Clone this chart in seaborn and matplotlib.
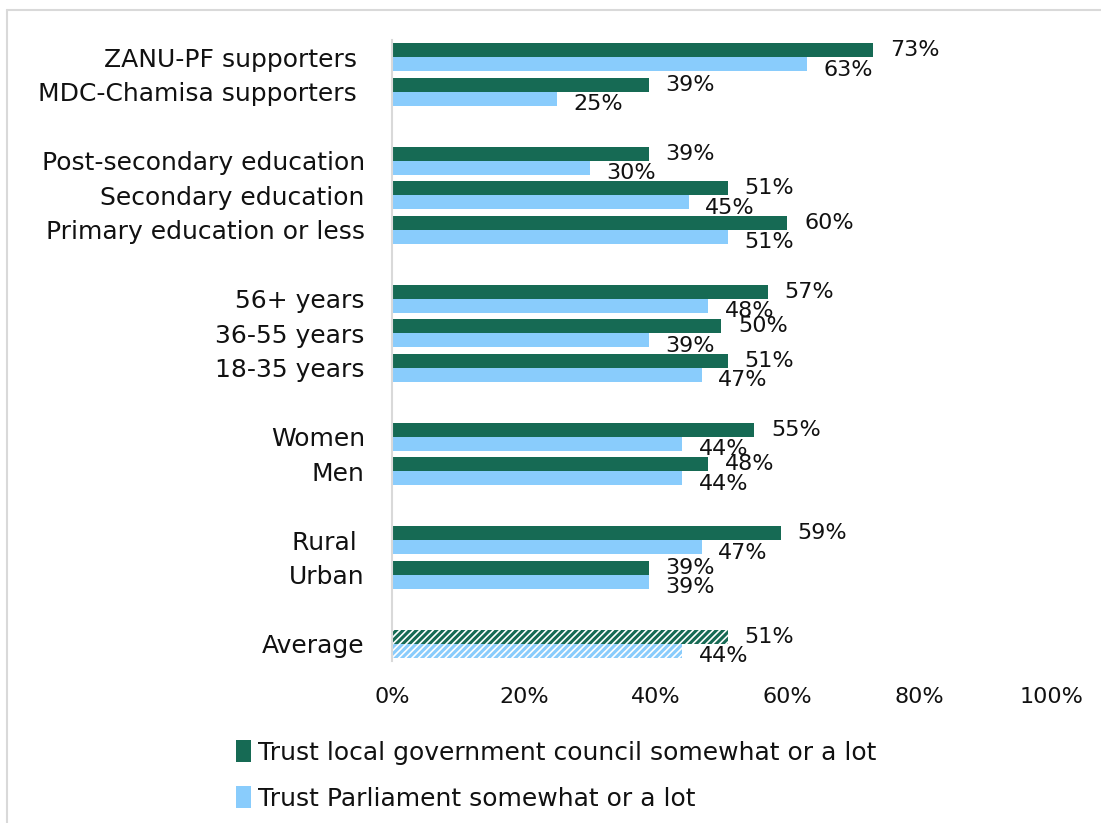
import matplotlib
matplotlib.use("Agg")
import matplotlib.pyplot as plt
from matplotlib.patches import Patch
from matplotlib.lines import Line2D
import seaborn as sns
import pandas as pd

# Groups from top to bottom; blank strings leave gaps between blocks
categories = [
    "ZANU-PF supporters ", "MDC-Chamisa supporters ", " ",
    "Post-secondary education", "Secondary education", "Primary education or less", "  ",
    "56+ years", "36-55 years", "18-35 years", "   ",
    "Women", "Men", "    ",
    "Rural ", "Urban", "     ",
    "Average",
]
local_council = [73, 39, None, 39, 51, 60, None, 57, 50, 51, None, 55, 48, None, 59, 39, None, 51]
parliament = [63, 25, None, 30, 45, 51, None, 48, 39, 47, None, 44, 44, None, 47, 39, None, 44]
series_names = ["Trust local government council somewhat or a lot",
                "Trust Parliament somewhat or a lot"]
x_ticks = [0, 20, 40, 60, 80, 100]

GREEN = "#166A54"
BLUE = "#89CCFC"

rows = []
for cat, a, b in zip(categories, local_council, parliament):
    if a is not None:
        rows.append({"group": cat, "series": series_names[0], "value": a})
        rows.append({"group": cat, "series": series_names[1], "value": b})
df = pd.DataFrame(rows)

sns.set_theme(style="white")
plt.rcParams["font.family"] = ["DejaVu Sans"]
plt.rcParams["hatch.linewidth"] = 2.2

fig = plt.figure(figsize=(11.01, 8.23), dpi=100)
ax = fig.add_axes([0.356, 0.1968, 0.5986, 0.7546])

sns.barplot(data=df, y="group", x="value", hue="series", order=categories,
            hue_order=series_names, palette=[GREEN, BLUE], orient="h",
            width=0.8, saturation=1, legend=False, ax=ax, linewidth=0)

# Average row drawn with diagonal stripes
for container, color in zip(ax.containers, [GREEN, BLUE]):
    last = container.patches[-1]
    last.set_facecolor("white")
    last.set_edgecolor(color)
    last.set_hatch("/////")
    last.set_linewidth(0)

# Value labels just past each bar end
for i, container in enumerate(ax.containers):
    dy = 0 if i == 0 else -4
    for bar, val in zip(container.patches, container.datavalues):
        y = bar.get_y() + bar.get_height() / 2
        ax.annotate(f"{val:.0f}%", xy=(bar.get_width(), y), xytext=(12, dy),
                    textcoords="offset points", ha="left", va="center",
                    fontsize=16, color="#111111")

ax.set_xlim(0, 100)
ax.set_ylim(len(categories) - 0.5, -0.5)
ax.set_xticks(x_ticks)
ax.set_xticklabels([f"{t}%" for t in x_ticks])
ax.set_xlabel("")
ax.set_ylabel("")
ax.tick_params(axis="x", length=0, labelsize=16, pad=19, colors="#111111")
ax.tick_params(axis="y", length=0, labelsize=18, pad=19.5, colors="#111111")
for s in ["top", "right", "bottom"]:
    ax.spines[s].set_visible(False)
ax.spines["left"].set_color("#D9D9D9")
ax.spines["left"].set_linewidth(1.5)
ax.grid(False)

handles = [Patch(facecolor=GREEN, edgecolor="none"), Patch(facecolor=BLUE, edgecolor="none")]
fig.legend(handles, series_names, loc="upper left", bbox_to_anchor=(0.205, 0.113),
           frameon=False, fontsize=18, handlelength=0.6, handleheight=1.0,
           handletextpad=0.3, labelspacing=0.85, borderaxespad=0, labelcolor="#111111")

# Chart-area frame on top and left edges
fig.add_artist(Line2D([0.0065, 0.0065], [0, 1 - 10 / 823], color="#D9D9D9", lw=1.5))
fig.add_artist(Line2D([0.0065, 1], [1 - 10 / 823, 1 - 10 / 823], color="#D9D9D9", lw=1.5))

fig.savefig("out.png", dpi=100, facecolor="white")
